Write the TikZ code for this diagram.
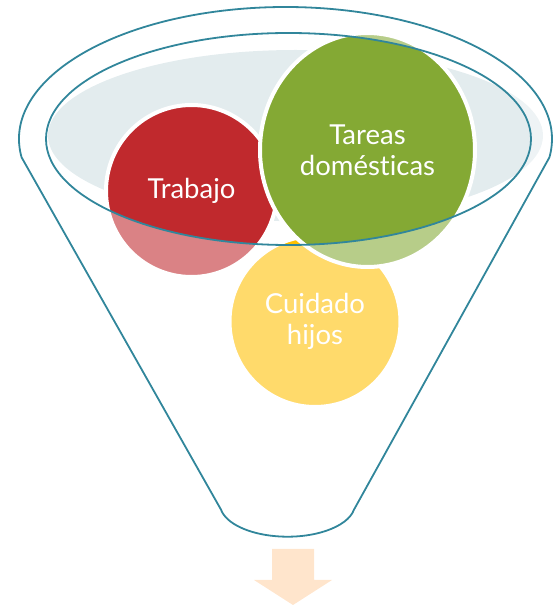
\documentclass[tikz,border=0pt]{standalone}
\usepackage{fontspec}
\setmainfont[Ligatures=NoCommon]{Lato}
\usepackage{tikz}
\usetikzlibrary{shapes,calc}

\begin{document}
\begin{tikzpicture}[x=1pt,y=1pt]
		
		\definecolor{funnelblue}{RGB}{49,134,155}
		\definecolor{bowlgray}{RGB}{227,236,238}
		\definecolor{workred}{RGB}{192,41,45}
		\definecolor{housegreen}{RGB}{132,169,52}
		\definecolor{kidsyellow}{RGB}{255,192,0}
		\definecolor{arrowpeach}{RGB}{255,229,204}
		
		\useasboundingbox (0,0) rectangle (558,606);
		
		\tikzstyle{rim} = [draw=funnelblue, line width=1.8pt]
		\tikzset{ball/.style = {shape=ellipse,draw=white,line width=4pt,inner sep=0pt,text=white,align=center,font=\fontsize{27.5}{31}\selectfont}}
		
		\coordinate (top) at (285.5,467);
		\coordinate (neck) at (287.5,102);
		\coordinate (out) at (293,57);
		
		% bowl
		\fill[bowlgray] (295.5,470.4) ellipse [x radius=247.5, y radius=85.6];
		
		\node[ball, fill=kidsyellow, minimum width=171pt, minimum height=171pt] (kids) at (315,284.5) {Cuidado\\hijos};
		\node[ball, fill=workred, minimum width=171pt, minimum height=172pt] (work) at (191.5,415) {Trabajo};
		\node[ball, fill=housegreen, minimum width=215pt, minimum height=234pt] (house) at (367.5,456) {Tareas\\domésticas};
		
		% funnel, washed out outside the inner rim
		\draw[rim, fill=white, fill opacity=0.42, even odd rule]
			($(top)+(188:266.5 and 132)$) arc [start angle=188, end angle=-8, x radius=266.5, y radius=132]
			-- ($(neck)+(-10:67.5 and 32.7)$) arc [start angle=-10, end angle=-170, x radius=67.5, y radius=32.7]
			-- cycle
			(288.5,467) ellipse [x radius=242.5, y radius=106];
		
		\fill[arrowpeach] (out) ++(-21,0) -- ++(42,0) -- ++(0,-31) -- ++(18,0) -- (293,1) -- ++(-39,25) -- ++(18,0) -- cycle;
		
\end{tikzpicture}
\end{document}
